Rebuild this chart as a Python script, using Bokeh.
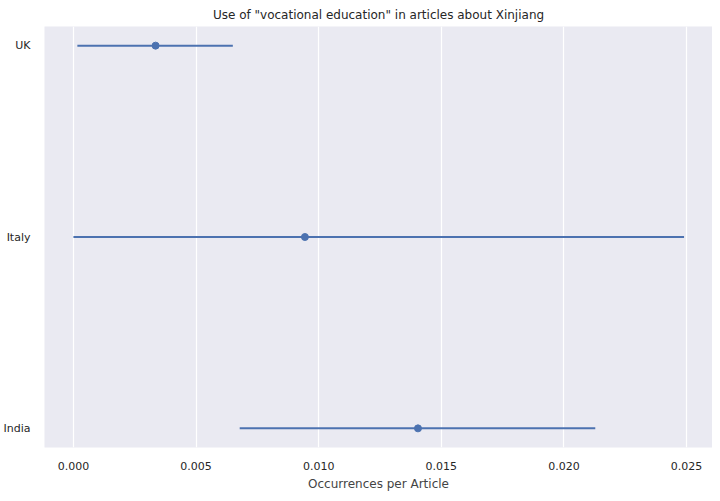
from bokeh.plotting import figure
from bokeh.models import FixedTicker, Range1d
from bokeh.embed import file_html
from bokeh.resources import INLINE

countries = ["UK", "Italy", "India"]
means = [0.00335, 0.00944, 0.01405]
ci_low = [0.00016, 0.0, 0.00678]
ci_high = [0.0065, 0.0249, 0.02128]
x_ticks = [0.000, 0.005, 0.010, 0.015, 0.020, 0.025]

ypos = list(range(len(countries)))

p = figure(
    width=712, height=493,
    title='Use of "vocational education" in articles about Xinjiang',
    output_backend="svg", toolbar_location=None, tools="",
    x_range=Range1d(-0.00118, 0.02606), y_range=Range1d(2.1, -0.1),
    min_border_left=37, min_border_right=0, min_border_top=14, min_border_bottom=0,
)
p.background_fill_color = "#EAEAF2"
p.border_fill_color = "white"
p.outline_line_color = None
p.grid.grid_line_color = "white"
p.grid.grid_line_width = 1.2
p.ygrid.grid_line_color = None

p.title.align = "center"
p.title.text_font = "DejaVu Sans"
p.title.text_font_size = "12px"
p.title.text_font_style = "normal"
p.title.text_color = "#262626"

p.xaxis.ticker = FixedTicker(ticks=x_ticks)
p.xaxis.major_label_overrides = {t: f"{t:.3f}" for t in x_ticks}
p.yaxis.ticker = FixedTicker(ticks=ypos)
p.yaxis.major_label_overrides = {i: c for i, c in enumerate(countries)}
p.xaxis.axis_label = "Occurrences per Article"
for ax in (p.xaxis, p.yaxis):
    ax.axis_line_color = None
    ax.major_tick_line_color = None
    ax.minor_tick_line_color = None
    ax.major_label_text_font = "DejaVu Sans"
    ax.major_label_text_font_size = "11px"
    ax.major_label_text_color = "#262626"
p.xaxis.axis_label_text_font = "DejaVu Sans"
p.xaxis.axis_label_text_font_size = "12px"
p.xaxis.axis_label_text_font_style = "normal"
p.xaxis.axis_label_standoff = 4
p.xaxis.major_label_standoff = 8
p.yaxis.major_label_standoff = 8

p.segment(x0=ci_low, x1=ci_high, y0=ypos, y1=ypos, line_color="#4C72B0", line_width=2)
p.scatter(x=means, y=ypos, size=7, color="#4C72B0")

open("out.html", "w").write(file_html(p, INLINE))
